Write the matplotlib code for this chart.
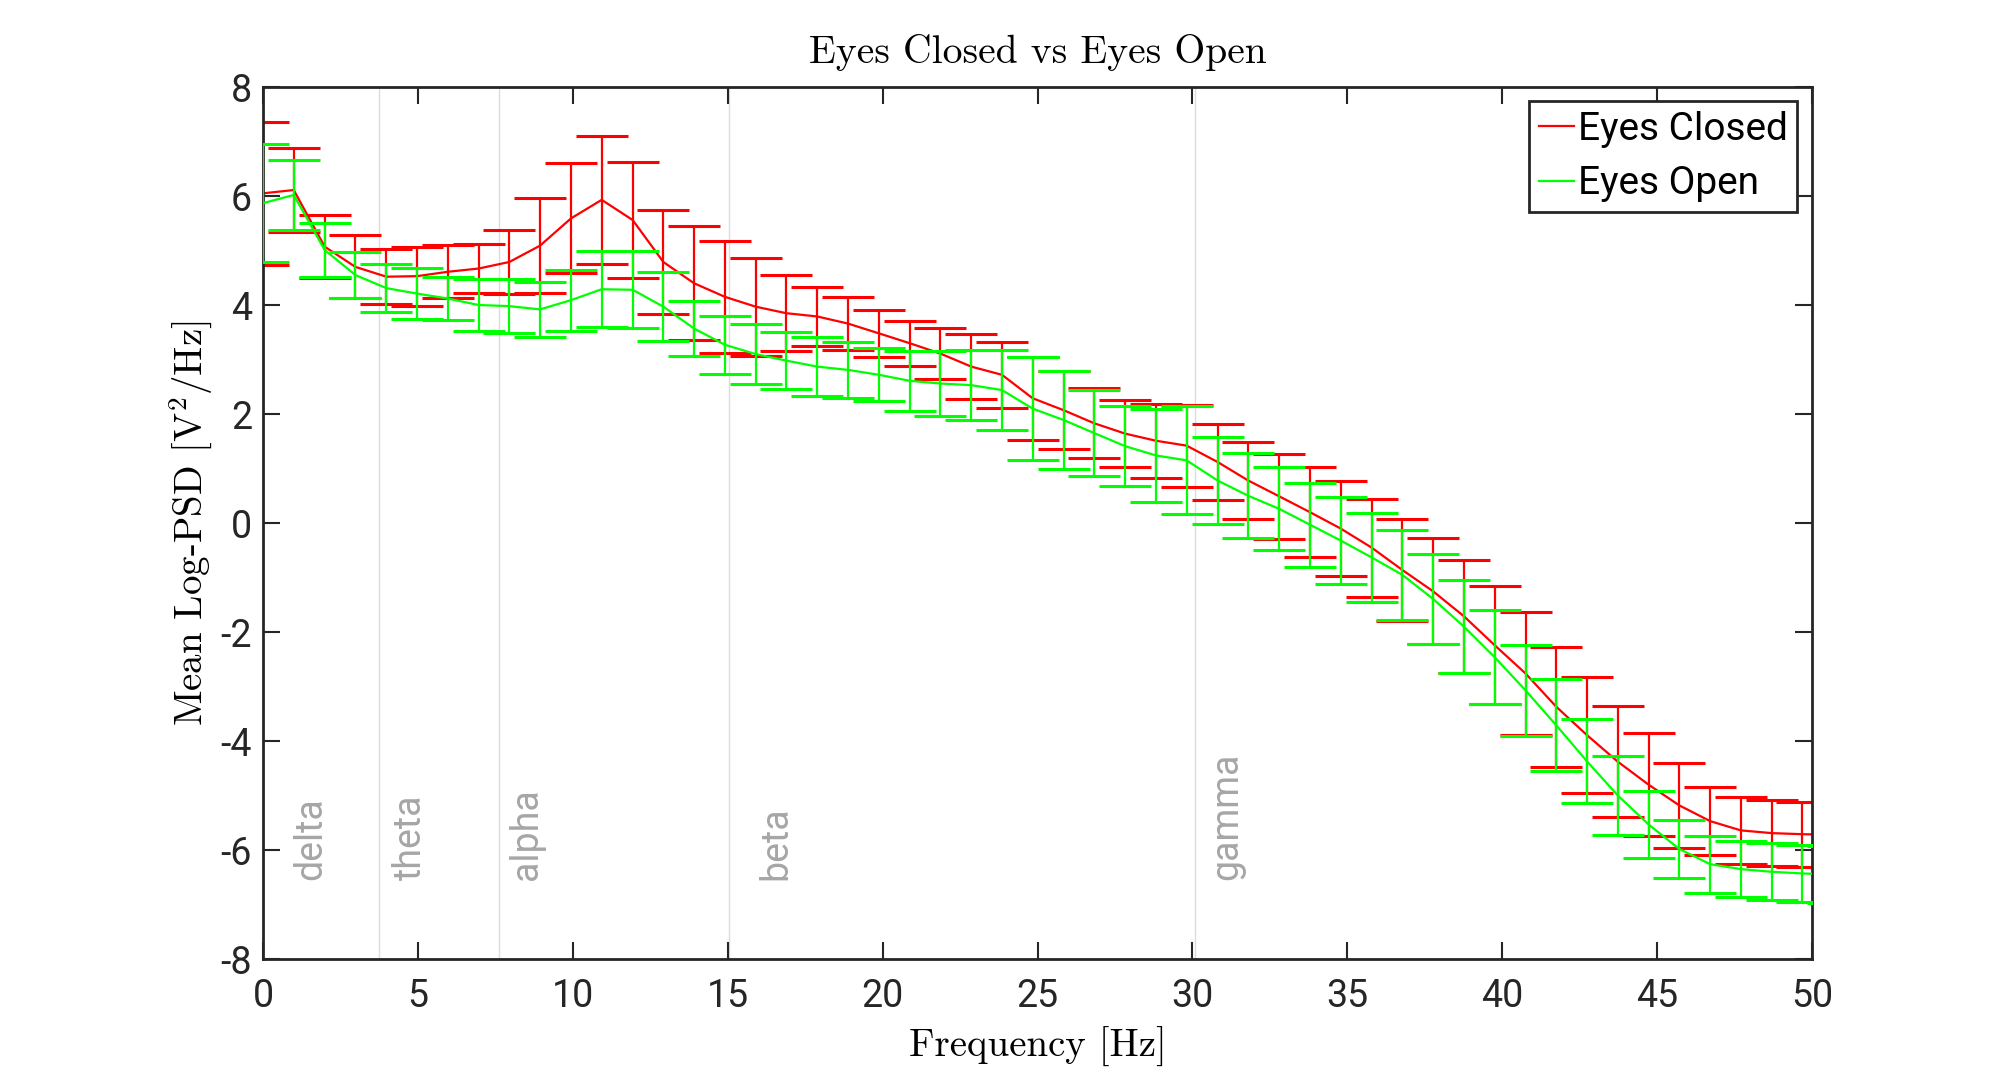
import numpy as np
import matplotlib
matplotlib.use('Agg')
from matplotlib import pyplot as plt
from matplotlib.lines import Line2D

plt.rcParams['mathtext.fontset'] = 'cm'
plt.rcParams['axes.unicode_minus'] = False

# frequency grid [Hz]
freqs = [0.00, 0.99, 1.99, 2.98, 3.98, 4.97, 5.96, 6.96, 7.95, 8.94,
         9.94, 10.93, 11.93, 12.92, 13.91, 14.91, 15.90, 16.89, 17.89, 18.88,
         19.88, 20.87, 21.86, 22.86, 23.85, 24.84, 25.84, 26.83, 27.83, 28.82,
         29.81, 30.81, 31.80, 32.80, 33.79, 34.78, 35.78, 36.77, 37.76, 38.76,
         39.75, 40.75, 41.74, 42.73, 43.73, 44.72, 45.71, 46.71, 47.70, 48.70,
         49.69, 50.68]

closed_mean = [6.05, 6.11, 5.07, 4.70, 4.52, 4.53, 4.61, 4.67, 4.79, 5.09,
               5.59, 5.93, 5.56, 4.79, 4.40, 4.15, 3.97, 3.85, 3.79, 3.66,
               3.48, 3.30, 3.11, 2.87, 2.72, 2.29, 2.07, 1.83, 1.64, 1.51,
               1.42, 1.12, 0.78, 0.49, 0.20, -0.10, -0.45, -0.86, -1.25, -1.71,
               -2.24, -2.76, -3.37, -3.89, -4.38, -4.80, -5.18, -5.47, -5.64, -5.69,
               -5.71, -5.72]
closed_err = [1.31, 0.77, 0.58, 0.58, 0.50, 0.54, 0.49, 0.45, 0.59, 0.87,
              1.01, 1.18, 1.07, 0.95, 1.05, 1.03, 0.90, 0.70, 0.55, 0.49,
              0.43, 0.41, 0.46, 0.60, 0.61, 0.76, 0.72, 0.64, 0.62, 0.68,
              0.75, 0.70, 0.70, 0.78, 0.82, 0.88, 0.90, 0.93, 0.97, 1.04,
              1.08, 1.13, 1.10, 1.06, 1.02, 0.95, 0.78, 0.63, 0.61, 0.60,
              0.60, 0.60]

open_mean = [5.87, 6.02, 5.01, 4.55, 4.31, 4.21, 4.12, 4.00, 3.98, 3.92,
             4.09, 4.29, 4.28, 3.97, 3.57, 3.27, 3.10, 2.98, 2.87, 2.81,
             2.72, 2.61, 2.56, 2.53, 2.44, 2.10, 1.89, 1.65, 1.41, 1.24,
             1.15, 0.78, 0.50, 0.26, -0.03, -0.32, -0.63, -0.95, -1.39, -1.90,
             -2.46, -3.07, -3.71, -4.37, -5.00, -5.53, -5.98, -6.26, -6.35, -6.40,
             -6.43, -6.45]
open_err = [1.08, 0.65, 0.50, 0.43, 0.44, 0.47, 0.40, 0.48, 0.50, 0.51,
            0.56, 0.70, 0.71, 0.63, 0.51, 0.53, 0.55, 0.52, 0.54, 0.52,
            0.49, 0.55, 0.60, 0.64, 0.73, 0.95, 0.90, 0.79, 0.73, 0.86,
            0.99, 0.79, 0.78, 0.76, 0.77, 0.80, 0.81, 0.83, 0.83, 0.85,
            0.86, 0.83, 0.84, 0.77, 0.72, 0.61, 0.53, 0.52, 0.51, 0.52,
            0.52, 0.52]

band_edges = [3.75, 7.63, 15.04, 30.07]
band_names = ['delta', 'theta', 'alpha', 'beta', 'gamma']
band_text_x = [1.55, 4.75, 8.5, 16.55, 31.1]

fig = plt.figure(figsize=(19.99, 10.72), dpi=100)
ax = fig.add_axes([0.1316, 0.1054, 0.7749, 0.8134])

for b in band_edges:
    ax.axvline(b, color='#dcdcdc', lw=1.0, zorder=0)
for name, tx in zip(band_names, band_text_x):
    ax.text(tx, -6.55, name, rotation=90, ha='center', va='bottom',
            color='#a6a6a6', fontsize=27, family='Roboto')

ax.errorbar(freqs, closed_mean, yerr=closed_err, color='#ff0000', lw=1.6,
            elinewidth=1.6, capsize=19, capthick=2.2, zorder=2)
ax.errorbar(freqs, open_mean, yerr=open_err, color='#00ff00', lw=1.6,
            elinewidth=1.6, capsize=19, capthick=2.2, zorder=3)

ax.set_xlim(0, 50)
ax.set_ylim(-8, 8)
ax.set_xticks(range(0, 51, 5))
ax.set_yticks(range(-8, 9, 2))
ax.tick_params(direction='in', length=12, width=1.5, top=True, right=True,
               labelsize=27, colors='#262626')
ax.tick_params(axis='x', pad=14)
ax.tick_params(axis='y', pad=8)
for lab in ax.get_xticklabels() + ax.get_yticklabels():
    lab.set_family('Roboto')
for s in ax.spines.values():
    s.set_linewidth(2)
    s.set_color('#262626')

ax.set_title('Eyes Closed vs Eyes Open', family='cmr10', fontsize=28.5, pad=17)
ax.set_xlabel('Frequency [Hz]', family='cmr10', fontsize=28, labelpad=8)
ax.set_ylabel(r'Mean Log-PSD [V$^2$/Hz]', family='cmr10', fontsize=28, labelpad=4)

handles = [Line2D([], [], color='#ff0000', lw=1.6),
           Line2D([], [], color='#00ff00', lw=1.6)]
leg = ax.legend(handles, ['Eyes Closed', 'Eyes Open'], loc='upper right',
                bbox_to_anchor=(0.9905, 0.984), fancybox=False, framealpha=1,
                edgecolor='#262626', handlelength=0.9, handletextpad=0.1,
                borderpad=0.25, labelspacing=0.45, borderaxespad=0,
                prop={'family': 'Roboto', 'size': 28})
leg.get_frame().set_linewidth(2)

fig.savefig('out.png', dpi=100)
